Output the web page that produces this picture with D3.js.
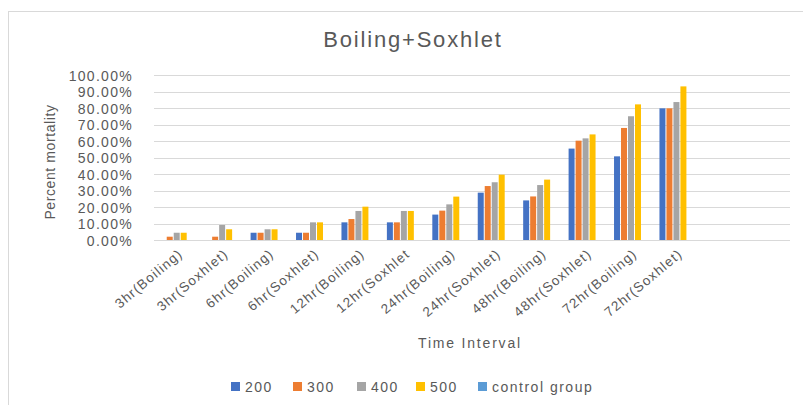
<!DOCTYPE html>
<html><head><meta charset="utf-8">
<script src="https://cdn.jsdelivr.net/npm/d3@7"></script>
<style>body{margin:0;background:#fff}svg{display:block}text{font-family:"Liberation Sans",sans-serif;fill:#595959}</style>
</head><body><svg id="c" width="803" height="405"></svg>
<script>
const categories = ["3hr(Boiling)","3hr(Soxhlet)","6hr(Boiling)","6hr(Soxhlet)","12hr(Boiling)","12hr(Soxhlet","24hr(Boiling)","24hr(Soxhlet)","48hr(Boiling)","48hr(Soxhlet)","72hr(Boiling)","72hr(Soxhlet)","",""];
const seriesNames = ["200","300","400","500","control group"];
const s200 = [0,0,4.4,4.4,10.7,10.7,15.4,28.7,24.0,55.4,50.7,79.8];
const s300 = [2.0,2.0,4.4,4.4,12.7,10.7,17.8,32.7,26.4,60.2,67.9,79.8];
const s400 = [4.4,9.1,6.5,10.7,17.6,17.6,21.6,35.0,33.3,61.6,75.0,83.6];
const s500 = [4.4,6.5,6.5,10.7,20.2,17.6,26.3,39.6,36.6,64.0,82.2,93.1];
const sControl = [0,0,0,0,0,0,0,0,0,0,0,0];
const yTicks = [0,10,20,30,40,50,60,70,80,90,100];
const colors = ["#4472C4","#ED7D31","#A5A5A5","#FFC000","#5B9BD5"];
const series = [s200,s300,s400,s500,sControl];

const svg = d3.select("#c");
svg.append("rect").attr("x",8.5).attr("y",11.5).attr("width",820).attr("height",420).attr("fill","none").attr("stroke","#d9d9d9");

const x = d3.scaleBand().domain(d3.range(categories.length)).range([154,790]);
const y = d3.scaleLinear().domain([0,100]).range([240,75]);
const inner = d3.scaleBand().domain(d3.range(series.length)).range([0,x.bandwidth()]).paddingOuter(0.75).paddingInner(0);

svg.append("g").selectAll("line").data(yTicks).join("line")
  .attr("x1",154).attr("x2",790).attr("y1",d=>Math.round(y(d))+0.5).attr("y2",d=>Math.round(y(d))+0.5)
  .attr("stroke","#d9d9d9").attr("stroke-width",1);

const yAxis = svg.append("g").attr("transform","translate(154,0)")
  .call(d3.axisLeft(y).tickValues(yTicks).tickSize(0).tickPadding(21).tickFormat(d=>d.toFixed(2)+"%"));
yAxis.select(".domain").remove();
yAxis.selectAll("text").style("font-size","14px").style("letter-spacing","1.3px").attr("fill","#595959").attr("dy","0.36em");

series.forEach((s,i)=>{
  svg.append("g").selectAll("rect").data(s).join("rect")
    .attr("x",(d,j)=>x(j)+inner(i)+0.5).attr("width",inner.bandwidth()-1)
    .attr("y",d=>y(d)).attr("height",d=>y(0)-y(d)).attr("fill",colors[i]);
});

const xAxis = svg.append("g").attr("transform","translate(0,240)")
  .call(d3.axisBottom(x).tickSize(0).tickFormat(i=>categories[i]));
xAxis.select(".domain").remove();
xAxis.selectAll("text").style("font-size","13.5px").style("letter-spacing","1.2px").attr("fill","#595959")
  .attr("text-anchor","end").attr("dy",0)
  .attr("transform","translate(5,13) rotate(-40)");

svg.append("text").attr("x",413).attr("y",47).attr("text-anchor","middle").style("font-size","22px").style("letter-spacing","1.8px").text("Boiling+Soxhlet");
svg.append("text").attr("transform","translate(55,162) rotate(-90)").attr("text-anchor","middle").style("font-size","14px").style("letter-spacing","0.6px").text("Percent mortality");
svg.append("text").attr("x",470).attr("y",348).attr("text-anchor","middle").style("font-size","14px").style("letter-spacing","1.8px").text("Time Interval");

const lx = [231,293,357,416,478];
const lg = svg.append("g").selectAll("g").data(seriesNames).join("g").attr("transform",(d,i)=>`translate(${lx[i]},387)`);
lg.append("rect").attr("x",0).attr("y",-5).attr("width",9).attr("height",9).attr("fill",(d,i)=>colors[i]);
lg.append("text").attr("x",14).attr("y",0).attr("dy","0.36em").style("font-size","14px").style("letter-spacing","1.5px").text(d=>d);
</script></body></html>
